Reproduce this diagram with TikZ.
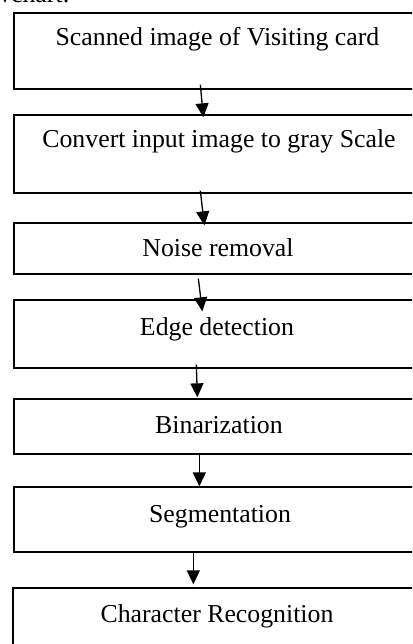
\documentclass[tikz,border=0pt]{standalone}
\usepackage{fontspec}
\setmainfont{Liberation Serif}
\usetikzlibrary{arrows.meta}

\begin{document}
\begin{tikzpicture}[x=1pt,y=-1pt,
  stagebox/.style={draw, line width=1.3pt, rectangle, inner sep=0pt, minimum width=411pt},
  label/.style={anchor=base, inner sep=0pt, font=\fontsize{25.8}{30}\selectfont},
  flow/.style={line width=1.3pt, -{Triangle[length=14pt,width=13pt]}}]
  \useasboundingbox (0,0) rectangle (412,644);
  \clip (0,0) rectangle (412,644);

  % caption line above the chart, mostly outside the frame
  \node[label, anchor=base east] (cap) at (70,3) {Flowchart:};

  % stage boxes (right side runs past the frame)
  \node[stagebox, minimum height=76pt] (b1) at (219.5,51)   {};
  \node[stagebox, minimum height=78pt] (b2) at (219.5,154)  {};
  \node[stagebox, minimum height=51pt] (b3) at (219.5,248.5){};
  \node[stagebox, minimum height=68pt] (b4) at (219.5,334)  {};
  \node[stagebox, minimum height=55pt] (b5) at (219.5,426.5){};
  \node[stagebox, minimum height=65pt] (b6) at (219.5,519.5){};
  \node[stagebox, minimum width=413pt, minimum height=120pt] (b7) at (219.5,648){};

  % stage names
  \node[label] (t1) at (217.5,46)  {Scanned image of Visiting card};
  \node[label] (t2) at (219,148)   {Convert input image to gray Scale};
  \node[label] (t3) at (218,256)   {Noise removal};
  \node[label] (t4) at (217,335)   {Edge detection};
  \node[label] (t5) at (219,433)   {Binarization};
  \node[label] (t6) at (220,522)   {Segmentation};
  \node[label] (t7) at (217,622)   {Character Recognition};

  % connectors between stages
  \draw[flow] ([shift={(187,-5)}]b1.south west) -- ([shift={(190,3)}]b2.north west);
  \draw[flow] ([shift={(187,-3)}]b2.south west) -- ([shift={(191,3)}]b3.north west);
  \draw[flow] ([shift={(185,4)}]b3.south west)  -- ([shift={(189,12)}]b4.north west);
  \draw[flow] ([shift={(183,-4)}]b4.south west) -- ([shift={(184,-1)}]b5.north west);
  \draw[flow] ([shift={(186,-1)}]b5.south west) -- ([shift={(186,0)}]b6.north west);
  \draw[flow] ([shift={(180,-2)}]b6.south west) -- ([shift={(181,-3)}]b7.north west);
\end{tikzpicture}
\end{document}
